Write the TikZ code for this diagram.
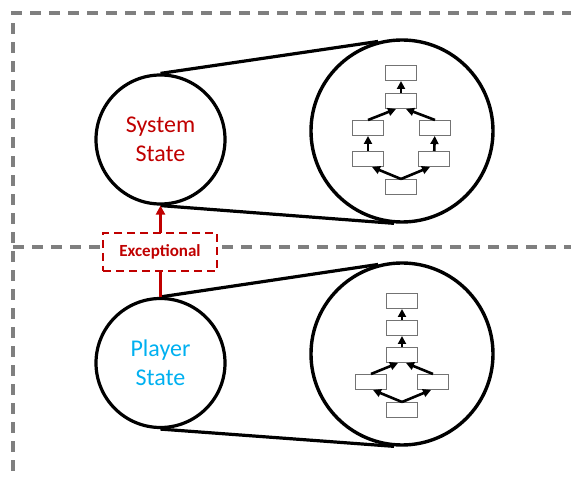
\documentclass[tikz,border=0pt]{standalone}
\usepackage{fontspec}
\setmainfont{Carlito}
\usetikzlibrary{arrows.meta}
\definecolor{sysred}{HTML}{C00000}
\definecolor{plrblue}{HTML}{00B0F0}
\definecolor{frame}{HTML}{7F7F7F}
\begin{document}
\begin{tikzpicture}[x=1pt,y=-1pt,
  region/.style={draw=frame,line width=3.2pt,dash pattern=on 11pt off 8pt},
  statecirc/.style={circle,draw=black,line width=3.2pt,minimum size=129pt,inner sep=0pt,align=center,font=\fontsize{24}{29}\selectfont},
  zoomcirc/.style={circle,draw=black,line width=3.4pt,minimum size=182pt,inner sep=0pt},
  link/.style={line width=3.2pt},
  tinybox/.style={draw=black!55,line width=1pt,minimum width=31pt,minimum height=15pt,inner sep=0pt},
  flow/.style={line width=2.6pt,-{Triangle[length=8pt,width=8pt]}},
]
\useasboundingbox (0,0) rectangle (571,478);

% dashed frame and separator
\draw[region] (13,490) -- (13,13) -- (590,13);
\draw[region] (13,247) -- (590,247);

% state circles
\node[statecirc,text=sysred] (sys) at (160.5,139.5) {System\\State};
\node[statecirc,text=plrblue] (plr) at (160.5,363) {Player\\State};

% magnified views
\node[zoomcirc] (za) at (402,131) {};
\node[zoomcirc] (zb) at (402,354) {};

\draw[link] (sys.north) -- (za.105);
\draw[link] (sys.south) -- (za.-95);
\draw[link] (plr.north) -- (zb.105);
\draw[link] (plr.south) -- (zb.-95);

% exceptional transition
\draw[sysred,line width=3pt,-{Triangle[length=9pt,width=9pt]}] (plr.north) -- (sys.south);
\node[draw=sysred,dash pattern=on 8pt off 5pt,line width=2.2pt,fill=white,
      minimum width=114pt,minimum height=38pt,inner sep=0pt,
      text=sysred,font=\fontsize{17}{19}\selectfont\bfseries] (exc) at (160,252) {Exceptional};

% inner graph of the system view
\node[tinybox] (a1) at (401,73) {};
\node[tinybox] (a2) at (401,101) {};
\node[tinybox] (a3l) at (368,128) {};
\node[tinybox] (a3r) at (435,128) {};
\node[tinybox] (a4l) at (368,159) {};
\node[tinybox] (a4r) at (434,159) {};
\node[tinybox] (a5) at (401,187) {};
\draw[flow] (a2) -- (a1);
\draw[flow] (a3l.north) -- ([xshift=-5pt]a2.south);
\draw[flow] (a3r.north) -- ([xshift=5pt]a2.south);
\draw[flow] (a4l) -- (a3l);
\draw[flow] (a4r) -- (a3r);
\draw[flow] (a5.north) -- ([xshift=4pt]a4l.south);
\draw[flow] (a5.north) -- ([xshift=-4pt]a4r.south);

% inner graph of the player view
\node[tinybox] (b1) at (402,301) {};
\node[tinybox] (b2) at (402,328) {};
\node[tinybox] (b3) at (402,355) {};
\node[tinybox] (b4l) at (371,382) {};
\node[tinybox] (b4r) at (433,382) {};
\node[tinybox] (b5) at (402,410) {};
\draw[flow] (b2) -- (b1);
\draw[flow] (b3) -- (b2);
\draw[flow] (b4l.north) -- ([xshift=-4pt]b3.south);
\draw[flow] (b4r.north) -- ([xshift=4pt]b3.south);
\draw[flow] (b5.north) -- ([xshift=2pt]b4l.south);
\draw[flow] (b5.north) -- ([xshift=-2pt]b4r.south);
\end{tikzpicture}
\end{document}
